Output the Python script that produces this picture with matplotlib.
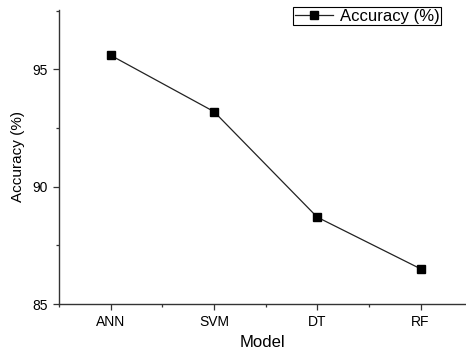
import matplotlib
matplotlib.use('Agg')
import matplotlib.pyplot as plt
from matplotlib.ticker import MultipleLocator, FixedLocator

models = ['ANN', 'SVM', 'DT', 'RF']
accuracy = [95.6, 93.2, 88.7, 86.5]

plt.rcParams['font.family'] = ['Liberation Sans', 'DejaVu Sans']

fig = plt.figure(figsize=(4.66, 3.54), dpi=100)
ax = fig.add_axes([59 / 466, 1 - 304 / 354, 1 - 59 / 466, (304 - 10) / 354])

x = list(range(1, len(models) + 1))
ax.plot(x, accuracy, color='#222222', linewidth=0.9, marker='s',
        markersize=5.5, markerfacecolor='black', markeredgecolor='black',
        label='Accuracy (%)')

ax.set_xlim(0.5, 4.44)
ax.set_ylim(85, 97.53)
ax.set_xticks(x)
ax.set_xticklabels(models)
ax.xaxis.set_minor_locator(FixedLocator([0.5, 1.5, 2.5, 3.5]))
ax.yaxis.set_major_locator(MultipleLocator(5))
ax.yaxis.set_minor_locator(MultipleLocator(2.5))

for s in ['top', 'right']:
    ax.spines[s].set_visible(False)
for s in ['left', 'bottom']:
    ax.spines[s].set_linewidth(1.0)
    ax.spines[s].set_color('#333333')

ax.tick_params(which='major', direction='out', length=4.5, width=0.9,
               labelsize=10, colors='#333333', labelcolor='black')
ax.tick_params(which='minor', direction='out', length=2.5, width=0.9,
               colors='#333333')

ax.set_xlabel('Model', fontsize=12, labelpad=4)
ax.set_ylabel('Accuracy (%)', fontsize=11, labelpad=5)

leg = ax.legend(loc='upper right', bbox_to_anchor=(441 / 466, 1 - 7 / 354),
                bbox_transform=fig.transFigure, fontsize=12, frameon=True,
                fancybox=False, framealpha=1, edgecolor='black',
                borderpad=0.1, borderaxespad=0, handlelength=2.3,
                handletextpad=0.4)
leg.get_frame().set_linewidth(0.8)

fig.savefig('out.png', dpi=100)
